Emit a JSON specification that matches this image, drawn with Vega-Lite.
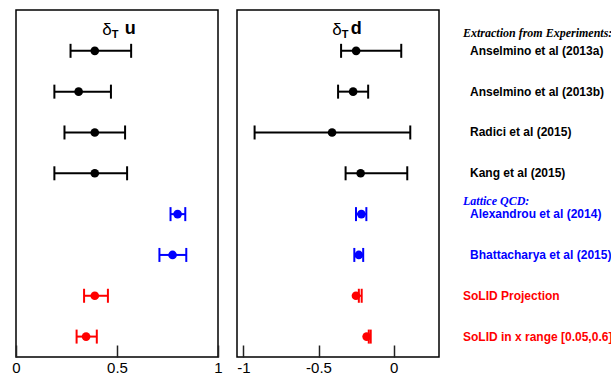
{
  "$schema": "https://vega.github.io/schema/vega-lite/v6.json",
  "background": "white",
  "padding": {"left": 11, "top": 9, "right": 0, "bottom": 0},
  "config": {
    "font": "Liberation Sans",
    "view": {"stroke": "black", "strokeWidth": 1.5},
    "axis": {"labelFontSize": 15, "labelColor": "black", "tickColor": "#222", "tickWidth": 1.5, "domain": false, "grid": false, "title": null, "labelFlush": false, "labelPadding": 15, "labelExpr": "toString(datum.value)"}
  },
  "datasets": {
    "pts": [
      {"row": 8, "study": "Anselmino et al (2013a)", "grp": "exp", "u": 0.39, "u_lo": 0.27, "u_hi": 0.57, "d": -0.25, "d_lo": -0.35, "d_hi": 0.05},
      {"row": 7, "study": "Anselmino et al (2013b)", "grp": "exp", "u": 0.31, "u_lo": 0.19, "u_hi": 0.47, "d": -0.27, "d_lo": -0.37, "d_hi": -0.17},
      {"row": 6, "study": "Radici et al (2015)", "grp": "exp", "u": 0.39, "u_lo": 0.24, "u_hi": 0.54, "d": -0.41, "d_lo": -0.925, "d_hi": 0.11},
      {"row": 5, "study": "Kang et al (2015)", "grp": "exp", "u": 0.39, "u_lo": 0.19, "u_hi": 0.55, "d": -0.22, "d_lo": -0.32, "d_hi": 0.09},
      {"row": 4, "study": "Alexandrou et al (2014)", "grp": "lat", "u": 0.80, "u_lo": 0.765, "u_hi": 0.838, "d": -0.215, "d_lo": -0.251, "d_hi": -0.182},
      {"row": 3, "study": "Bhattacharya et al (2015)", "grp": "lat", "u": 0.775, "u_lo": 0.71, "u_hi": 0.843, "d": -0.232, "d_lo": -0.262, "d_hi": -0.203},
      {"row": 2, "study": "SoLID Projection", "grp": "sol", "u": 0.39, "u_lo": 0.337, "u_hi": 0.455, "d": -0.251, "d_lo": -0.232, "d_hi": -0.213},
      {"row": 1, "study": "SoLID in x range [0.05,0.6]", "grp": "sol", "u": 0.347, "u_lo": 0.30, "u_hi": 0.40, "d": -0.18, "d_lo": -0.166, "d_hi": -0.153}
    ]
  },
  "hconcat": [
    {
      "width": 202,
      "height": 347,
      "layer": [
        {
          "data": {"name": "pts"},
          "mark": {"type": "rule", "strokeWidth": 2},
          "encoding": {
            "x": {"field": "u_lo", "type": "quantitative", "scale": {"domain": [0, 1], "nice": false, "zero": false}, "axis": {"values": [0, 0.5, 1], "tickSize": -12}},
            "x2": {"field": "u_hi"},
            "y": {"field": "row", "type": "quantitative", "scale": {"domain": [0.5, 9], "nice": false, "zero": false}, "axis": null},
            "color": {"field": "grp", "type": "nominal", "scale": {"domain": ["exp", "lat", "sol"], "range": ["black", "#0000ff", "#ff0000"]}, "legend": null}
          }
        },
        {
          "data": {"name": "pts"},
          "mark": {"type": "tick", "orient": "vertical", "size": 14, "thickness": 2, "opacity": 1},
          "encoding": {
            "x": {"field": "u_lo", "type": "quantitative"},
            "y": {"field": "row", "type": "quantitative"},
            "color": {"field": "grp", "type": "nominal", "legend": null}
          }
        },
        {
          "data": {"name": "pts"},
          "mark": {"type": "tick", "orient": "vertical", "size": 14, "thickness": 2, "opacity": 1},
          "encoding": {
            "x": {"field": "u_hi", "type": "quantitative"},
            "y": {"field": "row", "type": "quantitative"},
            "color": {"field": "grp", "type": "nominal", "legend": null}
          }
        },
        {
          "data": {"name": "pts"},
          "mark": {"type": "circle", "size": 75, "opacity": 1},
          "encoding": {
            "x": {"field": "u", "type": "quantitative"},
            "y": {"field": "row", "type": "quantitative"},
            "color": {"field": "grp", "type": "nominal", "legend": null}
          }
        },
        {
          "data": {"values": [{"t": "δ"}]},
          "mark": {"type": "text", "align": "right", "baseline": "alphabetic", "fontSize": 17, "color": "black"},
          "encoding": {"x": {"datum": 0.474}, "y": {"datum": 8.39}, "text": {"field": "t"}}
        },
        {
          "data": {"values": [{"t": "T"}]},
          "mark": {"type": "text", "align": "left", "baseline": "alphabetic", "fontSize": 11, "fontWeight": "bold", "dy": 3.5, "color": "black"},
          "encoding": {"x": {"datum": 0.474}, "y": {"datum": 8.39}, "text": {"field": "t"}}
        },
        {
          "data": {"values": [{"t": "u"}]},
          "mark": {"type": "text", "align": "left", "baseline": "alphabetic", "fontSize": 18, "fontWeight": "bold", "dx": 13, "dy": -0.5, "color": "black"},
          "encoding": {"x": {"datum": 0.474}, "y": {"datum": 8.39}, "text": {"field": "t"}}
        }
      ]
    },
    {
      "width": 202,
      "height": 347,
      "layer": [
        {
          "data": {"name": "pts"},
          "mark": {"type": "rule", "strokeWidth": 2},
          "encoding": {
            "x": {"field": "d_lo", "type": "quantitative", "scale": {"domain": [-1.042, 0.301], "nice": false, "zero": false}, "axis": {"values": [-1, -0.5, 0], "tickSize": -12}},
            "x2": {"field": "d_hi"},
            "y": {"field": "row", "type": "quantitative", "scale": {"domain": [0.5, 9], "nice": false, "zero": false}, "axis": null},
            "color": {"field": "grp", "type": "nominal", "scale": {"domain": ["exp", "lat", "sol"], "range": ["black", "#0000ff", "#ff0000"]}, "legend": null}
          }
        },
        {
          "data": {"name": "pts"},
          "mark": {"type": "tick", "orient": "vertical", "size": 14, "thickness": 2, "opacity": 1},
          "encoding": {
            "x": {"field": "d_lo", "type": "quantitative"},
            "y": {"field": "row", "type": "quantitative"},
            "color": {"field": "grp", "type": "nominal", "legend": null}
          }
        },
        {
          "data": {"name": "pts"},
          "mark": {"type": "tick", "orient": "vertical", "size": 14, "thickness": 2, "opacity": 1},
          "encoding": {
            "x": {"field": "d_hi", "type": "quantitative"},
            "y": {"field": "row", "type": "quantitative"},
            "color": {"field": "grp", "type": "nominal", "legend": null}
          }
        },
        {
          "data": {"name": "pts"},
          "mark": {"type": "circle", "size": 75, "opacity": 1},
          "encoding": {
            "x": {"field": "d", "type": "quantitative"},
            "y": {"field": "row", "type": "quantitative"},
            "color": {"field": "grp", "type": "nominal", "legend": null}
          }
        },
        {
          "data": {"values": [{"t": "δ"}]},
          "mark": {"type": "text", "align": "right", "baseline": "alphabetic", "fontSize": 17, "color": "black"},
          "encoding": {"x": {"datum": -0.346}, "y": {"datum": 8.39}, "text": {"field": "t"}}
        },
        {
          "data": {"values": [{"t": "T"}]},
          "mark": {"type": "text", "align": "left", "baseline": "alphabetic", "fontSize": 11, "fontWeight": "bold", "dy": 3.5, "color": "black"},
          "encoding": {"x": {"datum": -0.346}, "y": {"datum": 8.39}, "text": {"field": "t"}}
        },
        {
          "data": {"values": [{"t": "d"}]},
          "mark": {"type": "text", "align": "left", "baseline": "alphabetic", "fontSize": 18, "fontWeight": "bold", "dx": 9, "dy": -0.5, "color": "black"},
          "encoding": {"x": {"datum": -0.346}, "y": {"datum": 8.39}, "text": {"field": "t"}}
        }
      ]
    },
    {
      "width": 154,
      "height": 347,
      "view": {"stroke": null},
      "data": {"name": "pts"},
      "encoding": {
        "x": {"datum": 0, "type": "quantitative", "scale": {"domain": [0, 1]}, "axis": null},
        "y": {"field": "row", "type": "quantitative", "scale": {"domain": [0.5, 9], "nice": false, "zero": false}, "axis": null},
        "color": {"field": "grp", "type": "nominal", "scale": {"domain": ["exp", "lat", "sol"], "range": ["black", "#0000ff", "#ff0000"]}, "legend": null}
      },
      "layer": [
        {
          "transform": [{"filter": "datum.grp != 'sol'"}],
          "mark": {"type": "text", "align": "left", "baseline": "middle", "fontSize": 12, "fontWeight": "bold", "dx": 12},
          "encoding": {"text": {"field": "study"}}
        },
        {
          "transform": [{"filter": "datum.grp == 'sol'"}],
          "mark": {"type": "text", "align": "left", "baseline": "middle", "fontSize": 12, "fontWeight": "bold", "dx": 5},
          "encoding": {"text": {"field": "study"}}
        },
        {
          "transform": [{"filter": "datum.row == 8"}],
          "mark": {"type": "text", "align": "left", "baseline": "middle", "font": "Liberation Serif", "fontStyle": "italic", "fontSize": 12, "fontWeight": "bold", "dx": 5, "dy": -18},
          "encoding": {"text": {"value": "Extraction from Experiments:"}}
        },
        {
          "transform": [{"filter": "datum.row == 4"}],
          "mark": {"type": "text", "align": "left", "baseline": "middle", "font": "Liberation Serif", "fontStyle": "italic", "fontSize": 12, "fontWeight": "bold", "dx": 5, "dy": -13},
          "encoding": {"text": {"value": "Lattice QCD:"}}
        }
      ]
    }
  ],
  "spacing": 19,
  "bounds": "flush"
}
